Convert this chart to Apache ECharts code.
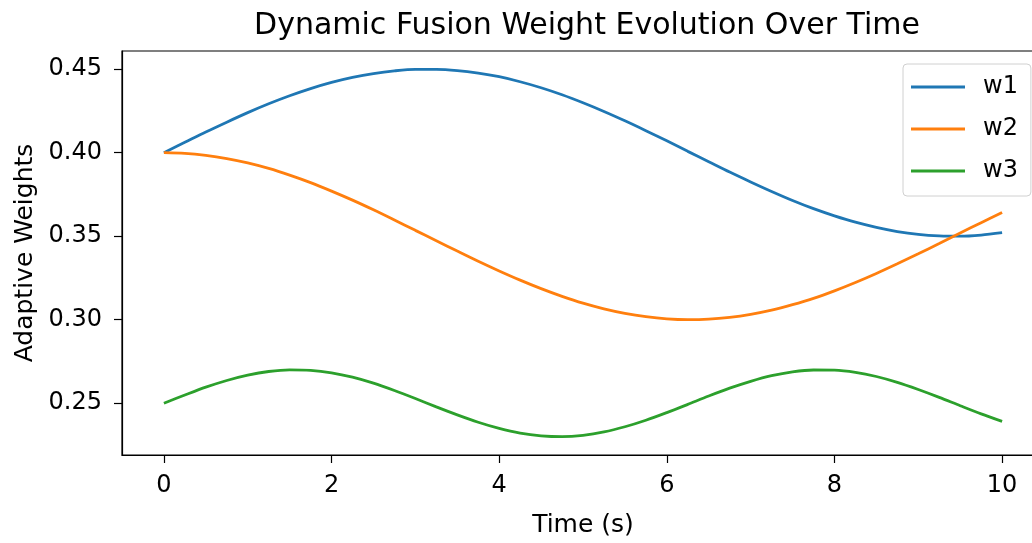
<!DOCTYPE html>
<html>
<head>
<meta charset="utf-8">
<script src="https://cdn.jsdelivr.net/npm/echarts@6/dist/echarts.min.js"></script>
<style>html,body{margin:0;padding:0;background:#fff;overflow:hidden}#c{width:1070px;height:543px}</style>
</head>
<body>
<div id="c"></div>
<script>
const timeValues = [0, 0.25, 0.5, 0.75, 1, 1.25, 1.5, 1.75, 2, 2.25, 2.5, 2.75, 3, 3.25, 3.5, 3.75, 4, 4.25, 4.5, 4.75, 5, 5.25, 5.5, 5.75, 6, 6.25, 6.5, 6.75, 7, 7.25, 7.5, 7.75, 8, 8.25, 8.5, 8.75, 9, 9.25, 9.5, 9.75, 10];
const w1 = [0.4000, 0.4062, 0.4124, 0.4183, 0.4240, 0.4293, 0.4341, 0.4384, 0.4421, 0.4451, 0.4474, 0.4490, 0.4499, 0.4499, 0.4492, 0.4477, 0.4455, 0.4425, 0.4389, 0.4347, 0.4299, 0.4247, 0.4191, 0.4132, 0.4071, 0.4008, 0.3946, 0.3884, 0.3825, 0.3768, 0.3714, 0.3665, 0.3622, 0.3584, 0.3553, 0.3528, 0.3511, 0.3502, 0.3500, 0.3507, 0.3521];
const w2 = [0.4000, 0.3996, 0.3984, 0.3965, 0.3939, 0.3906, 0.3866, 0.3821, 0.3770, 0.3716, 0.3658, 0.3597, 0.3535, 0.3473, 0.3411, 0.3350, 0.3292, 0.3237, 0.3186, 0.3140, 0.3099, 0.3065, 0.3038, 0.3018, 0.3005, 0.3000, 0.3003, 0.3014, 0.3032, 0.3057, 0.3090, 0.3128, 0.3173, 0.3223, 0.3277, 0.3335, 0.3395, 0.3456, 0.3519, 0.3581, 0.3642];
const w3 = [0.2500, 0.2549, 0.2596, 0.2636, 0.2668, 0.2690, 0.2700, 0.2697, 0.2682, 0.2656, 0.2620, 0.2576, 0.2528, 0.2478, 0.2430, 0.2386, 0.2349, 0.2321, 0.2305, 0.2300, 0.2308, 0.2328, 0.2359, 0.2398, 0.2444, 0.2493, 0.2543, 0.2590, 0.2631, 0.2665, 0.2688, 0.2699, 0.2698, 0.2685, 0.2660, 0.2625, 0.2582, 0.2535, 0.2485, 0.2436, 0.2391];
const xTicks = [0, 2, 4, 6, 8, 10];
const yTicks = [0.25, 0.30, 0.35, 0.40, 0.45];
const seriesNames = ['w1', 'w2', 'w3'];
const colors = ['#1f77b4', '#ff7f0e', '#2ca02c'];

const pair = (ys) => timeValues.map((t, i) => [t, ys[i]]);
const font = 'DejaVu Sans';
const chart = echarts.init(document.getElementById('c'), null, {renderer: 'canvas'});
chart.setOption({
  animation: false,
  backgroundColor: '#fff',
  title: {
    text: 'Dynamic Fusion Weight Evolution Over Time',
    left: 582, top: 6, textAlign: 'center',
    textStyle: {fontFamily: font, fontSize: 30, fontWeight: 'normal', color: '#000'}
  },
  grid: {left: 122, top: 51, width: 922, height: 405, show: true, borderColor: '#000', borderWidth: 1.2, backgroundColor: 'transparent'},
  legend: {
    orient: 'vertical', left: 903, top: 64,
    data: seriesNames,
    icon: 'rect', itemWidth: 54, itemHeight: 3, itemGap: 18,
    padding: [11, 13, 13, 8],
    backgroundColor: '#fff', borderColor: '#d0d0d0', borderWidth: 1, borderRadius: 4,
    textStyle: {fontFamily: font, fontSize: 24, color: '#000', padding: [0, 0, 0, 13]}
  },
  xAxis: {
    type: 'value', min: -0.5, max: 10.5,
    name: 'Time (s)', nameLocation: 'middle', nameGap: 58,
    nameTextStyle: {fontFamily: font, fontSize: 25, color: '#000'},
    axisLine: {show: true, onZero: false, lineStyle: {color: '#000', width: 1.2}},
    axisTick: {show: true, length: 8, lineStyle: {color: '#000', width: 1.2}, customValues: xTicks},
    axisLabel: {fontFamily: font, fontSize: 24, color: '#000', margin: 19, customValues: xTicks, formatter: v => String(v)},
    splitLine: {show: false}
  },
  yAxis: {
    type: 'value', min: 0.219, max: 0.4609,
    name: 'Adaptive Weights', nameLocation: 'middle', nameGap: 82,
    nameTextStyle: {fontFamily: font, fontSize: 25, color: '#000'},
    axisLine: {show: true, onZero: false, lineStyle: {color: '#000', width: 1.2}},
    axisTick: {show: true, length: 8, lineStyle: {color: '#000', width: 1.2}, customValues: yTicks},
    axisLabel: {fontFamily: font, fontSize: 24, color: '#000', margin: 20, customValues: yTicks, formatter: v => v.toFixed(2)},
    splitLine: {show: false}
  },
  series: [w1, w2, w3].map((d, i) => ({
    name: seriesNames[i], type: 'line', data: pair(d), smooth: 0.3,
    showSymbol: false, symbol: 'none',
    lineStyle: {color: colors[i], width: 2.8}, itemStyle: {color: colors[i]}
  }))
});
</script>
</body>
</html>
